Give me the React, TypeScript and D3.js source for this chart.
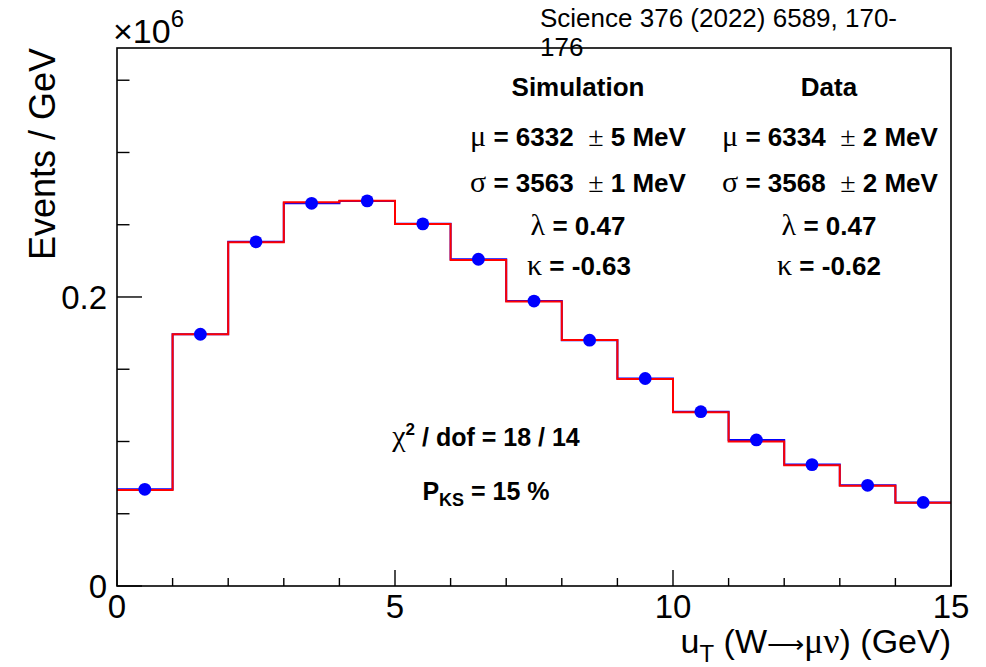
import React from "react";
import * as d3 from "d3";

// bin edges of u_T (GeV)
const binEdges = [0, 1, 2, 3, 4, 5, 6, 7, 8, 9, 10, 11, 12, 13, 14, 15];
// events / GeV (x10^6)
const simValues = [0.0664, 0.1742, 0.2378, 0.2655, 0.2666, 0.2505, 0.2256, 0.1968, 0.1703, 0.1432, 0.1202, 0.1000, 0.0836, 0.0693, 0.0576];
const dataValues = [0.0669, 0.1742, 0.2382, 0.2648, 0.2665, 0.2506, 0.2261, 0.1972, 0.1701, 0.1436, 0.1206, 0.1011, 0.0840, 0.0697, 0.0578];

const xMajorTicks = [0, 5, 10, 15];
const xMinorTicks = [1, 2, 3, 4, 6, 7, 8, 9, 11, 12, 13, 14];
const yMajorTicks = [0, 0.2];
const yMinorTicks = [0.05, 0.1, 0.15, 0.25, 0.3, 0.35];
const yTickLabels = ["0", "0.2"];

const W = 986;
const H = 667;
const L = 117, R = 951, T = 48, B = 586;
const FONT = "'Liberation Sans', Arial, Helvetica, sans-serif";
const SERIF = "'Liberation Serif', 'Times New Roman', serif";

const x = d3.scaleLinear().domain([0, 15]).range([L, R]);
const y = d3.scaleLinear().domain([0, 0.3723]).range([B, T]);

function stepPath(vals: number[]): string {
  const p = d3.path();
  vals.forEach((v, i) => {
    if (i === 0) p.moveTo(x(binEdges[0]), y(v));
    else p.lineTo(x(binEdges[i]), y(v));
    p.lineTo(x(binEdges[i + 1]), y(v));
  });
  return p.toString();
}

const Greek = ({ c, size }: { c: string; size: number }) => (
  <tspan fontFamily={SERIF} fontWeight="normal" fontSize={size}>{c}</tspan>
);

function StatLine({ cx, yy, greek, rest, pm, unit }: { cx: number; yy: number; greek: string; rest: string; pm?: string; unit?: string }) {
  return (
    <text x={cx} y={yy} textAnchor="middle" fontFamily={FONT} fontWeight="bold" fontSize={26} fill="#000" style={{ whiteSpace: "pre" }}>
      <Greek c={greek} size={30} />
      {" " + rest}
      {pm !== undefined && (
        <>
          {"  "}
          <tspan fontWeight="normal" fontFamily={SERIF} fontSize={28}>±</tspan>
          {" " + pm + " " + unit}
        </>
      )}
    </text>
  );
}

export default function App() {
  const majLenX = 16, minLenX = 8, majLenY = 25, minLenY = 12.5;
  return (
    <svg width={W} height={H} style={{ position: "absolute", left: 0, top: 0, background: "#fff" }}>
      <rect x={0} y={0} width={W} height={H} fill="#fff" />
      {/* histograms */}
      <path d={stepPath(dataValues)} fill="none" stroke="#0000ff" strokeWidth={2} />
      <path d={stepPath(simValues)} fill="none" stroke="#ff0000" strokeWidth={2} />
      {dataValues.map((v, i) => (
        <circle key={i} cx={x((binEdges[i] + binEdges[i + 1]) / 2)} cy={y(v)} r={6.4} fill="#0000ff" />
      ))}
      {/* frame */}
      <rect x={L} y={T} width={R - L} height={B - T} fill="none" stroke="#000" strokeWidth={1.6} />
      {/* x ticks */}
      {xMajorTicks.map((t) => (
        <line key={"xm" + t} x1={x(t)} x2={x(t)} y1={B} y2={B - majLenX} stroke="#000" strokeWidth={1.4} />
      ))}
      {xMinorTicks.map((t) => (
        <line key={"xn" + t} x1={x(t)} x2={x(t)} y1={B} y2={B - minLenX} stroke="#000" strokeWidth={1.4} />
      ))}
      {xMajorTicks.map((t) => (
        <text key={"xl" + t} x={x(t)} y={618} textAnchor="middle" fontFamily={FONT} fontSize={33} fill="#000">
          {t}
        </text>
      ))}
      {/* y ticks */}
      {yMajorTicks.map((t) => (
        <line key={"ym" + t} x1={L} x2={L + majLenY} y1={y(t)} y2={y(t)} stroke="#000" strokeWidth={1.4} />
      ))}
      {yMinorTicks.map((t) => (
        <line key={"yn" + t} x1={L} x2={L + minLenY} y1={y(t)} y2={y(t)} stroke="#000" strokeWidth={1.4} />
      ))}
      {yMajorTicks.map((t, i) => (
        <text key={"yl" + t} x={107} y={y(t) + 12} textAnchor="end" fontFamily={FONT} fontSize={33} fill="#000">
          {yTickLabels[i]}
        </text>
      ))}
      {/* exponent */}
      <text x={113} y={43} fontFamily={FONT} fontSize={34} fill="#000">
        ×10<tspan dy={-16} fontSize={24}>6</tspan>
      </text>
      {/* axis titles */}
      <text transform={`translate(55,${T}) rotate(-90)`} textAnchor="end" fontFamily={FONT} fontSize={36} fill="#000">
        Events / GeV
      </text>
      <text x={R} y={653} textAnchor="end" fontFamily={FONT} fontSize={34} fill="#000">
        u<tspan dy={9} fontSize={24}>T</tspan>
        <tspan dy={-9}> (W</tspan>
        <tspan fontFamily={SERIF} fontSize={26}>⟶</tspan>
        <tspan fontFamily={SERIF} fontSize={36}>μν</tspan>
        <tspan>) (GeV)</tspan>
      </text>
      {/* citation */}
      <text x={540} y={27} fontFamily={FONT} fontSize={26} fill="#000">
        Science 376 (2022) 6589, 170-
      </text>
      <text x={540} y={56} fontFamily={FONT} fontSize={26} fill="#000">
        176
      </text>
      {/* stats */}
      <text x={578} y={96} textAnchor="middle" fontFamily={FONT} fontWeight="bold" fontSize={26}>Simulation</text>
      <text x={829} y={96} textAnchor="middle" fontFamily={FONT} fontWeight="bold" fontSize={26}>Data</text>
      <StatLine cx={578} yy={146} greek="μ" rest="= 6332" pm="5" unit="MeV" />
      <StatLine cx={830} yy={146} greek="μ" rest="= 6334" pm="2" unit="MeV" />
      <StatLine cx={578} yy={192} greek="σ" rest="= 3563" pm="1" unit="MeV" />
      <StatLine cx={830} yy={192} greek="σ" rest="= 3568" pm="2" unit="MeV" />
      <StatLine cx={578} yy={235} greek="λ" rest="= 0.47" />
      <StatLine cx={829} yy={235} greek="λ" rest="= 0.47" />
      <StatLine cx={579} yy={275} greek="κ" rest="= -0.63" />
      <StatLine cx={829} yy={275} greek="κ" rest="= -0.62" />
      <text x={486} y={446} textAnchor="middle" fontFamily={FONT} fontWeight="bold" fontSize={25}>
        <Greek c="χ" size={30} />
        <tspan dy={-11} fontSize={17}>2</tspan>
        <tspan dy={11}> / dof = 18 / 14</tspan>
      </text>
      <text x={486} y={500} textAnchor="middle" fontFamily={FONT} fontWeight="bold" fontSize={25}>
        P<tspan dy={6} fontSize={18}>KS</tspan>
        <tspan dy={-6}> = 15 %</tspan>
      </text>
    </svg>
  );
}
